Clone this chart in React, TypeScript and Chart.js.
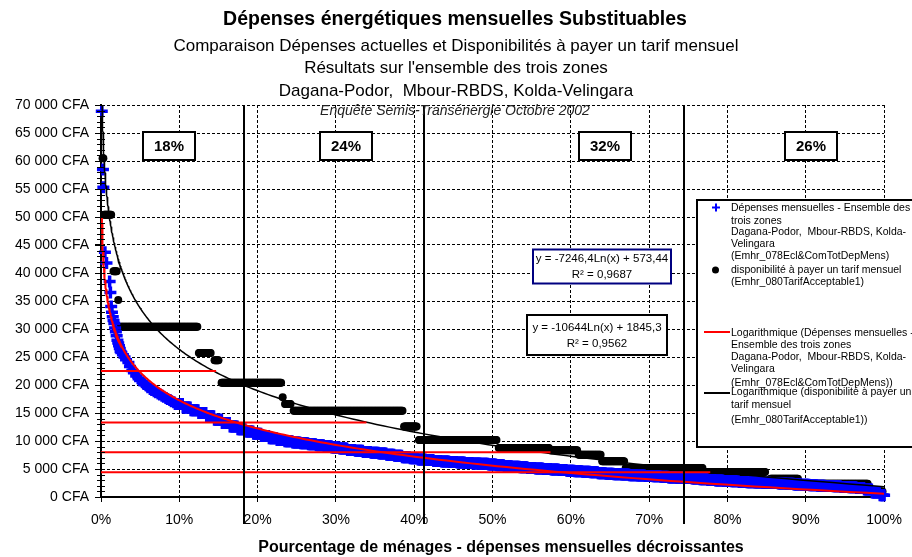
import React, { useEffect, useRef } from 'react';
import { Chart, registerables } from 'chart.js';

Chart.register(...registerables);

const FONT = '"Liberation Sans", Arial, Helvetica, sans-serif';

// ---------- texts ----------
const titleMain = 'Dépenses énergétiques mensuelles Substituables';
const subtitleLines = [
  'Comparaison Dépenses actuelles et Disponibilités à payer un tarif mensuel',
  "Résultats sur l'ensemble des trois zones",
  'Dagana-Podor,  Mbour-RBDS, Kolda-Velingara',
];
const surveyNote = 'Enquête Semis-Transénergie Octobre 2002';
const xAxisTitle = 'Pourcentage de ménages - dépenses mensuelles décroissantes';

// ---------- axes ----------
const xMin = 0;
const xMax = 100;
const xStep = 10;
const yMin = 0;
const yMax = 70000;
const yStep = 5000;
const yMinorStep = 1000;

// ---------- blue series : Dépenses mensuelles (sorted, decreasing) ----------
// steep head of the distribution: individual households (x in %)
const blueHeadPct = [0.1, 0.25, 0.3, 0.5, 0.7, 1.1, 1.2, 1.3, 1.4, 1.5, 1.6, 1.7, 1.8, 1.9, 2.0, 2.1, 2.2, 2.3, 2.4, 2.5, 2.6, 2.8, 3.0, 3.2, 3.5, 3.7, 4.0, 4.2, 4.5, 4.8, 5.0, 5.3, 5.5, 5.8, 6.0, 6.3, 6.5, 6.8, 7.0, 7.3, 7.5, 7.8, 8.0, 8.3, 8.5, 8.8, 9.0, 9.3];
const blueHeadVal = [68900, 58500, 55300, 43700, 41800, 38500, 36500, 34000, 33000, 32200, 31500, 31000, 30200, 29500, 28800, 28000, 27500, 27000, 26500, 26000, 25800, 25400, 25000, 24500, 24000, 23300, 22600, 22200, 21600, 21100, 20800, 20500, 20200, 19900, 19600, 19300, 19100, 18900, 18700, 18500, 18300, 18100, 17900, 17700, 17500, 17300, 17100, 16900];
// body of the distribution: value of each 1 % slice of households
const blueBodyPct = [10, 11, 12, 13, 14, 15, 16, 17, 18, 19, 20, 21, 22, 23, 24, 25, 26, 27, 28, 29, 30, 31, 32, 33, 34, 35, 36, 37, 38, 39, 40, 41, 42, 43, 44, 45, 46, 47, 48, 49, 50, 51, 52, 53, 54, 55, 56, 57, 58, 59, 60, 61, 62, 63, 64, 65, 66, 67, 68, 69, 70, 71, 72, 73, 74, 75, 76, 77, 78, 79, 80, 81, 82, 83, 84, 85, 86, 87, 88, 89, 90, 91, 92, 93, 94, 95, 96, 97, 98, 99, 100];
const blueBodyVal = [16600, 16000, 15500, 15000, 14400, 13800, 13200, 12600, 12100, 11700, 11300, 10900, 10500, 10200, 9950, 9750, 9600, 9400, 9250, 9050, 8850, 8650, 8400, 8250, 8050, 7900, 7750, 7550, 7350, 7100, 6900, 6700, 6600, 6450, 6350, 6250, 6150, 6050, 6000, 5950, 5800, 5650, 5500, 5400, 5300, 5200, 5100, 5000, 4900, 4800, 4700, 4600, 4500, 4400, 4250, 4150, 4050, 4000, 3900, 3850, 3750, 3700, 3600, 3500, 3450, 3400, 3300, 3150, 3050, 2950, 2850, 2800, 2700, 2650, 2600, 2550, 2500, 2400, 2350, 2250, 2200, 2100, 2000, 1950, 1900, 1800, 1750, 1600, 1350, 800, 300];

// ---------- black series : disponibilité à payer (plateaus of equal answers) ----------
const blackFromPct = [0.2, 0.4, 1.6, 2.2, 2.5, 12.5, 14.5, 15.4, 23.2, 23.5, 24.6, 38.7, 40.6, 50.8, 57.4, 61.0, 64.0, 67.0, 77.0, 85.5, 90.2, 98.8];
const blackToPct = [0.3, 1.3, 2.0, 2.2, 12.3, 14.0, 15.0, 23.0, 23.2, 24.2, 38.5, 40.3, 50.5, 57.2, 60.8, 63.8, 66.8, 76.8, 84.8, 89.0, 97.9, 99.8];
const blackVal = [60500, 50400, 40300, 35200, 30400, 25700, 24400, 20400, 17800, 16600, 15400, 12600, 10200, 8750, 8330, 7560, 6400, 5200, 4460, 3270, 2380, 1000];

// ---------- logarithmic trend lines (equations printed on the chart) ----------
const redTrendA = -7246.4;
const redTrendB = 573.44;
const redTrendR2 = '0,9687';
const blackTrendA = -10644;
const blackTrendB = 1845.3;
const blackTrendR2 = '0,9562';
const trendStartPct = 0.11;

// ---------- annotations ----------
const redLevelVal = [22500, 13300, 8000, 4400];
const redLevelEndPct = [14.7, 33.9, 57.4, 77.8];
const splitPct = [18.2, 41.2, 74.4];
const shareLabels = ['18%', '24%', '32%', '26%'];
const shareCenterPct = [8.7, 31.3, 64.4, 90.7];

const legendTexts = [
  ['Dépenses mensuelles - Ensemble des', 'trois zones', 'Dagana-Podor,  Mbour-RBDS, Kolda-', 'Velingara', '(Emhr_078Ecl&ComTotDepMens)'],
  ['disponibilité à payer un tarif mensuel', '(Emhr_080TarifAcceptable1)'],
  ['Logarithmique (Dépenses mensuelles -', 'Ensemble des trois zones', 'Dagana-Podor,  Mbour-RBDS, Kolda-', 'Velingara', '(Emhr_078Ecl&ComTotDepMens))'],
  ['Logarithmique (disponibilité à payer un', 'tarif mensuel', '(Emhr_080TarifAcceptable1))'],
];

// ---------- helpers ----------
function fmtCFA(v: number): string {
  const s = String(Math.round(v));
  return s.replace(/\B(?=(\d{3})+(?!\d))/g, ' ') + ' CFA';
}
function fmtNum(v: number): string {
  return String(v).replace('.', ',');
}
function plateau(from: number, to: number, v: number, step: number) {
  const pts: { x: number; y: number }[] = [];
  for (let p = from; p <= to + 1e-9; p += step) pts.push({ x: p, y: v });
  return pts;
}
function buildBlue() {
  const pts: { x: number; y: number }[] = [];
  blueHeadPct.forEach((p, i) => pts.push({ x: p, y: blueHeadVal[i] }));
  blueBodyPct.forEach((p, i) => {
    const from = p - 0.5;
    const to = Math.min(p + 0.375, 100);
    pts.push(...plateau(from, to, blueBodyVal[i], 0.125));
  });
  return pts;
}
function buildBlack() {
  const pts: { x: number; y: number }[] = [];
  blackFromPct.forEach((f, i) => pts.push(...plateau(f, blackToPct[i], blackVal[i], 0.1)));
  return pts;
}
function buildTrend(a: number, b: number) {
  const pts: { x: number; y: number }[] = [];
  const n = 300;
  for (let i = 0; i <= n; i++) {
    const p = trendStartPct * Math.pow(100 / trendStartPct, i / n);
    pts.push({ x: p, y: a * Math.log(p / 100) + b });
  }
  return pts;
}

const decor = {
  id: 'decor',
  afterDatasetsDraw(chart: any) {
    const { ctx, chartArea, scales } = chart;
    const x = scales.x;
    const y = scales.y;
    ctx.save();
    // minor ticks on the value axis
    ctx.strokeStyle = '#000';
    ctx.lineWidth = 1;
    for (let v = yMin; v <= yMax; v += yMinorStep) {
      const py = Math.round(y.getPixelForValue(v)) + 0.5;
      ctx.beginPath();
      ctx.moveTo(v % yStep === 0 ? chartArea.left - 6 : chartArea.left - 4, py);
      ctx.lineTo(chartArea.left + 4, py);
      ctx.stroke();
    }
    // vertical split lines
    ctx.lineWidth = 2;
    splitPct.forEach((p) => {
      const px = Math.round(x.getPixelForValue(p));
      ctx.beginPath();
      ctx.moveTo(px, chartArea.top);
      ctx.lineTo(px, chartArea.bottom + 27);
      ctx.stroke();
    });
    ctx.restore();
  },
  afterDraw(chart: any) {
    const { ctx, scales } = chart;
    const x = scales.x;
    ctx.save();
    ctx.fillStyle = '#000';
    ctx.textAlign = 'center';
    ctx.textBaseline = 'middle';
    // titles
    ctx.font = `bold 19.5px ${FONT}`;
    ctx.fillText(titleMain, 455, 20);
    ctx.font = `17px ${FONT}`;
    ctx.fillText(subtitleLines[0], 456, 46);
    ctx.fillText(subtitleLines[1], 456, 68);
    ctx.fillText(subtitleLines[2], 456, 91);
    ctx.font = `italic 14px ${FONT}`;
    ctx.fillStyle = '#222';
    ctx.fillText(surveyNote, 455, 111);
    ctx.fillStyle = '#000';
    // x axis title
    ctx.font = `bold 16px ${FONT}`;
    ctx.fillText(xAxisTitle, 501, 548);

    // share boxes
    shareLabels.forEach((lab, i) => {
      const cx = x.getPixelForValue(shareCenterPct[i]);
      const w = 52;
      const h = 28;
      const left = Math.round(cx - w / 2);
      ctx.fillStyle = '#fff';
      ctx.fillRect(left, 132, w, h);
      ctx.strokeStyle = '#000';
      ctx.lineWidth = 2;
      ctx.strokeRect(left, 132, w, h);
      ctx.fillStyle = '#000';
      ctx.font = `bold 15px ${FONT}`;
      ctx.fillText(lab, left + w / 2, 147);
    });

    // equation boxes
    const eq = (l: number, t: number, r: number, b: number, color: string, lw: number, l1: string, l2: string, y1: number, y2: number) => {
      ctx.fillStyle = '#fff';
      ctx.fillRect(l, t, r - l, b - t);
      ctx.strokeStyle = color;
      ctx.lineWidth = lw;
      ctx.strokeRect(l, t, r - l, b - t);
      ctx.fillStyle = '#000';
      ctx.font = `11.5px ${FONT}`;
      ctx.fillText(l1, (l + r) / 2, y1);
      ctx.fillText(l2, (l + r) / 2, y2);
    };
    eq(533, 249.5, 671, 283.5, '#000080', 2,
      `y = ${fmtNum(redTrendA)}Ln(x) + ${fmtNum(redTrendB)}`, `R² = ${redTrendR2}`, 259, 275);
    eq(527, 315, 667, 355, '#000', 2,
      `y = ${fmtNum(blackTrendA)}Ln(x) + ${fmtNum(blackTrendB)}`, `R² = ${blackTrendR2}`, 328, 344);

    // legend
    ctx.fillStyle = '#fff';
    ctx.fillRect(697, 200, 220, 247);
    ctx.strokeStyle = '#000';
    ctx.lineWidth = 2;
    ctx.strokeRect(697, 200, 220, 247);
    ctx.textAlign = 'left';
    ctx.font = `10.5px ${FONT}`;
    ctx.fillStyle = '#000';
    const tx = 731;
    const rows: number[][] = [
      [208.3, 220.7, 232.3, 244, 255.7],
      [270, 281.7],
      [333.3, 345, 356.7, 369, 382.7],
      [392, 405, 420],
    ];
    legendTexts.forEach((lines, i) => lines.forEach((s, j) => ctx.fillText(s, tx, rows[i][j])));
    // legend symbols
    ctx.strokeStyle = '#0000FF';
    ctx.lineWidth = 2;
    ctx.beginPath();
    ctx.moveTo(712, 207.5); ctx.lineTo(720, 207.5);
    ctx.moveTo(716, 203.5); ctx.lineTo(716, 211.5);
    ctx.stroke();
    ctx.fillStyle = '#000';
    ctx.beginPath();
    ctx.arc(715.5, 270, 3.5, 0, Math.PI * 2);
    ctx.fill();
    ctx.strokeStyle = '#FF0000';
    ctx.lineWidth = 2;
    ctx.beginPath(); ctx.moveTo(704, 332); ctx.lineTo(730, 332); ctx.stroke();
    ctx.strokeStyle = '#000';
    ctx.beginPath(); ctx.moveTo(704, 393); ctx.lineTo(730, 393); ctx.stroke();
    ctx.restore();
  },
};

export default function App() {
  const ref = useRef<HTMLCanvasElement>(null);
  useEffect(() => {
    const redLevelSets = redLevelVal.map((v, i) => ({
      data: [{ x: xMin, y: v }, { x: redLevelEndPct[i], y: v }],
      showLine: true,
      borderColor: '#FF0000',
      borderWidth: 2,
      pointRadius: 0,
      clip: false as any,
    }));
    const chart = new Chart(ref.current as HTMLCanvasElement, {
      type: 'scatter',
      data: {
        datasets: [
          ...redLevelSets,
          {
            data: buildTrend(redTrendA, redTrendB),
            showLine: true,
            borderColor: '#FF0000',
            borderWidth: 2,
            pointRadius: 0,
          },
          {
            data: buildTrend(blackTrendA, blackTrendB),
            showLine: true,
            borderColor: '#000',
            borderWidth: 1.5,
            pointRadius: 0,
          },
          {
            data: buildBlue(),
            pointStyle: 'cross',
            pointRadius: 6,
            borderColor: '#0000FF',
            backgroundColor: '#0000FF',
            borderWidth: 3.5,
            clip: false as any,
          },
          {
            data: buildBlack(),
            pointStyle: 'circle',
            pointRadius: 4,
            borderWidth: 0,
            backgroundColor: '#000',
            borderColor: '#000',
            clip: false as any,
          },
        ] as any,
      },
      options: {
        responsive: false,
        animation: false,
        events: [],
        layout: { padding: { top: 105, right: 25, left: 0, bottom: 0 } },
        plugins: { legend: { display: false }, tooltip: { enabled: false }, title: { display: false } },
        scales: {
          x: {
            type: 'linear',
            min: xMin,
            max: xMax,
            afterFit: (s: any) => { s.height = 60; },
            ticks: {
              stepSize: xStep,
              color: '#000',
              padding: 10,
              font: { family: FONT, size: 14 },
              callback: (v: any) => `${Math.round(Number(v))}%`,
            },
            grid: { color: '#000', lineWidth: 1, drawTicks: true, tickLength: 5, tickColor: '#000' },
            border: { display: true, color: '#000', width: 2, dash: [3, 2] },
          },
          y: {
            type: 'linear',
            min: yMin,
            max: yMax,
            afterFit: (s: any) => { s.width = 101; },
            ticks: {
              stepSize: yStep,
              color: '#000',
              padding: 6,
              font: { family: FONT, size: 14 },
              callback: (v: any) => fmtCFA(Number(v)),
            },
            grid: { color: '#000', lineWidth: 1, drawTicks: true, tickLength: 6, tickColor: '#000' },
            border: { display: true, color: '#000', width: 2, dash: [3, 2] },
          },
        },
      } as any,
      plugins: [decor],
    });
    return () => chart.destroy();
  }, []);
  return (
    <div style={{ position: 'absolute', left: 0, top: 0, width: 912, height: 557, background: '#fff' }}>
      <canvas ref={ref} width={912} height={557} style={{ display: 'block', width: 912, height: 557 }} />
    </div>
  );
}
